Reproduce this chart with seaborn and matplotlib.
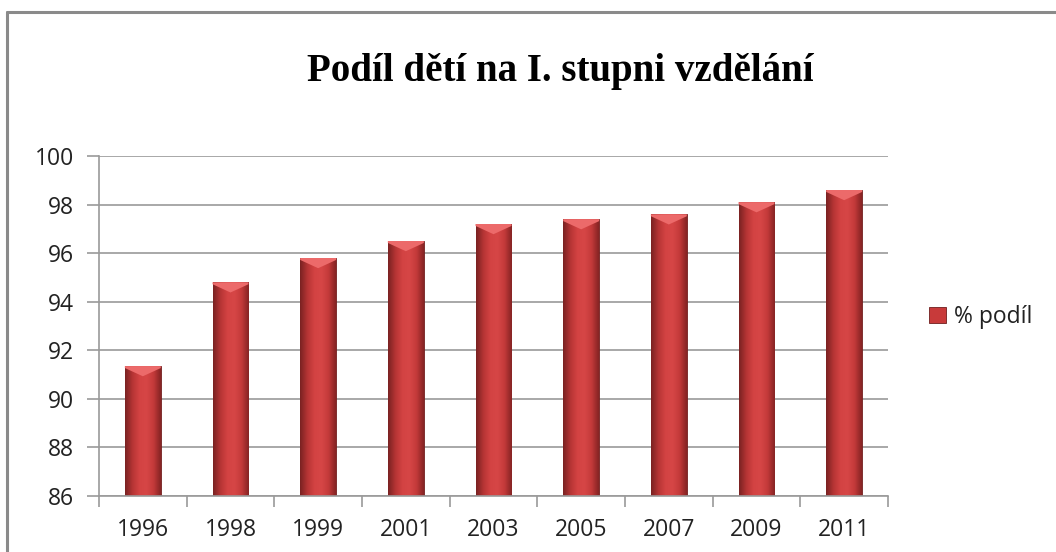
import numpy as np
import pandas as pd
import seaborn as sns
import matplotlib
matplotlib.use('Agg')
import matplotlib.pyplot as plt
from matplotlib.lines import Line2D
from matplotlib.patches import Patch
from matplotlib.colors import LinearSegmentedColormap

years = ['1996', '1998', '1999', '2001', '2003', '2005', '2007', '2009', '2011']
share = [91.35, 94.8, 95.8, 96.5, 97.2, 97.4, 97.6, 98.1, 98.6]
series_name = '% podíl'
title = 'Podíl dětí na I. stupni vzdělání'
yticks = list(range(86, 101, 2))

sns.set_theme(style='white')
plt.rcParams['font.family'] = ['Open Sans', 'DejaVu Sans']

df = pd.DataFrame({'rok': years, 'podil': share})

fig = plt.figure(figsize=(10.56, 5.52), dpi=100)
ax = fig.add_axes([99 / 1056, 1 - 496 / 552, (888 - 99) / 1056, (496 - 156) / 552])

sns.barplot(data=df, x='rok', y='podil', color='#c83a3a', width=0.41,
            saturation=1, ax=ax, zorder=2)
ax.set_ylim(86, 100)
ax.set_yticks(yticks)
ax.set_xlabel('')
ax.set_ylabel('')

# shaded bars, darker at the sides like the office-style bevel
cmap = LinearSegmentedColormap.from_list(
    'bar', ['#7a2222', '#b53434', '#d34343', '#d64646', '#c43a3a', '#862424'])
grad = np.linspace(0, 1, 64).reshape(1, -1)
for bar in ax.patches:
    x0 = bar.get_x()
    x1 = x0 + bar.get_width()
    mid = (x0 + x1) / 2
    top = bar.get_height()
    bar.set_edgecolor('#6e1e1e')
    bar.set_linewidth(0.6)
    im = ax.imshow(grad, cmap=cmap, aspect='auto', extent=(x0, x1, 86, top),
                   zorder=2.5, interpolation='bicubic')
    im.set_clip_path(bar)
    # light chevron cap on top of the bar
    ax.fill([x0, x1, x1, mid, x0], [top, top, top - 0.08, top - 0.42, top - 0.08],
            color='#ec6a6a', zorder=3, lw=0)

ax.set_xlim(-0.5, len(years) - 0.5)
ax.grid(axis='y', color='#9a9a9a', linewidth=1.2, zorder=0)
for s in ['top', 'right']:
    ax.spines[s].set_visible(False)
for s in ['left', 'bottom']:
    ax.spines[s].set_color('#9a9a9a')
    ax.spines[s].set_linewidth(1.2)

# x ticks sit between categories
ax.set_xticks(np.arange(-0.5, len(years), 1), minor=False)
ax.set_xticklabels([])
ax.set_xticks(range(len(years)), minor=True)
ax.set_xticklabels(years, minor=True)
ax.tick_params(axis='x', which='major', length=8, width=1.2, color='#9a9a9a',
               direction='out', bottom=True)
ax.tick_params(axis='x', which='minor', length=0, pad=16, labelsize=16.5,
               labelcolor='#222222')
ax.tick_params(axis='y', length=9, width=1.2, color='#9a9a9a', direction='out',
               left=True, pad=9, labelsize=16.5, labelcolor='#222222')

fig.text(560 / 1056, 1 - 72 / 552, title, ha='center', va='center',
         fontsize=28, fontweight='bold', family=['Liberation Serif', 'DejaVu Serif'],
         color='black')

handle = Patch(facecolor='#c83a3a', edgecolor='#6e1e1e', linewidth=0.6)
fig.legend([handle], [series_name], loc='center left',
           bbox_to_anchor=(908 / 1056, 1 - 317 / 552), frameon=False,
           fontsize=16.5, handlelength=0.75, handleheight=0.75, handletextpad=0.35,
           labelcolor='#222222')

# chart frame (only top and left edges visible in the crop)
fig.add_artist(Line2D([7 / 1056, 7 / 1056], [0, 1 - 12 / 552], transform=fig.transFigure,
                      color='#8a8a8a', linewidth=2.2))
fig.add_artist(Line2D([7 / 1056, 1], [1 - 12 / 552, 1 - 12 / 552], transform=fig.transFigure,
                      color='#8a8a8a', linewidth=2.2))

fig.savefig('out.png', dpi=100)
